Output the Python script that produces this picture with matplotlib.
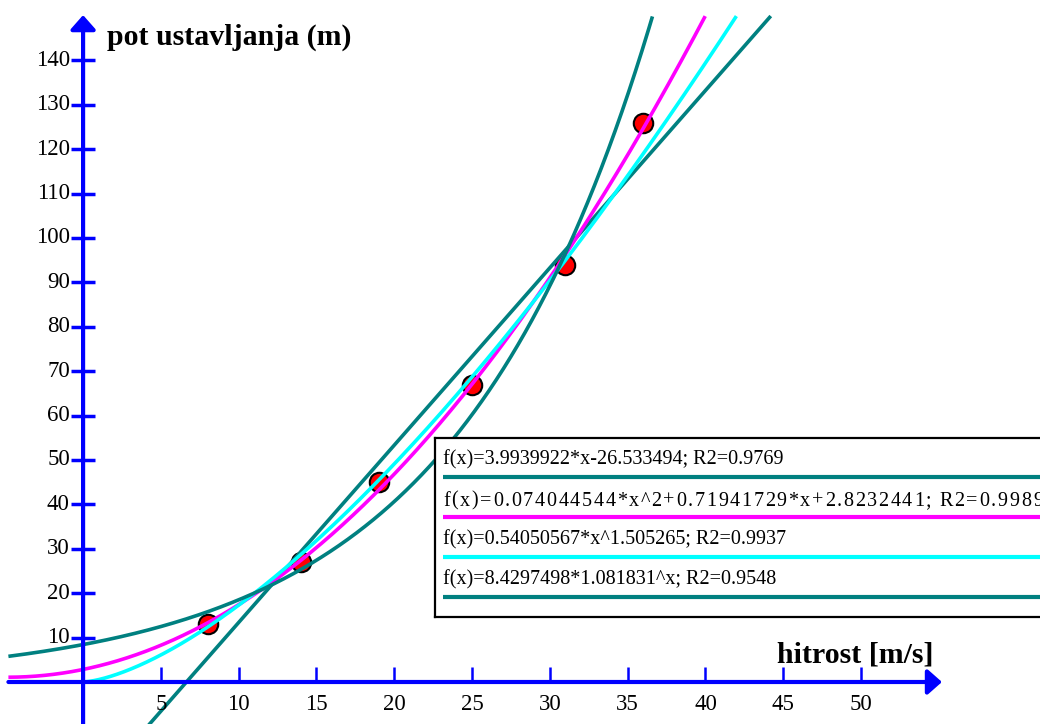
import numpy as np
import matplotlib
matplotlib.use("Agg")
import matplotlib.pyplot as plt
from matplotlib.font_manager import findfont, FontProperties
from matplotlib import ft2font

plt.rcParams['font.family'] = ['Liberation Serif', 'DejaVu Serif']

# measured speeds (m/s) and stopping distances (m)
speed = [8, 14, 19, 25, 31, 36]
distance = [13, 27, 45, 67, 94, 126]

x_ticks = [5, 10, 15, 20, 25, 30, 35, 40, 45, 50]
y_ticks = [10, 20, 30, 40, 50, 60, 70, 80, 90, 100, 110, 120, 130, 140]

fit_labels = [
    "f(x)=3.9939922*x-26.533494; R2=0.9769",
    "f(x)=0.074044544*x^2+0.71941729*x+2.8232441; R2=0.9989",
    "f(x)=0.54050567*x^1.505265; R2=0.9937",
    "f(x)=8.4297498*1.081831^x; R2=0.9548",
]
fit_colors = ["#008080", "#ff00ff", "#00ffff", "#008080"]
# the quadratic label is set with wider letter spacing (total width in px)
wide_label_width = {1: 600}

AXIS = "#0000ff"
W, H = 1040, 724
DPI = 100
LEG_FS = 14.5

fig = plt.figure(figsize=(W / DPI, H / DPI), dpi=DPI)
ax = fig.add_axes([0, 0, 1, 1])
ax.set_xlim(-5.34, 61.5)
ax.set_ylim(-9.46, 153.6)
ax.axis("off")

# fitted curves
YMAX = 150.0
xs = np.linspace(-4.8, 60, 6000)
xs_pos = np.linspace(0, 60, 6000)
curves = [
    (xs, 3.9939922 * xs - 26.533494),
    (xs, 0.074044544 * xs ** 2 + 0.71941729 * xs + 2.8232441),
    (xs_pos, 0.54050567 * xs_pos ** 1.505265),
    (xs, 8.4297498 * 1.081831 ** xs),
]

# data points sit beneath the curves
ax.plot(speed, distance, "o", ms=14, mfc="red", mec="black", mew=1.5,
        zorder=2, linestyle="none")

for (cx, cy), col in zip(curves, fit_colors):
    cy = np.where(cy > YMAX, np.nan, cy)
    ax.plot(cx, cy, color=col, lw=2.6, zorder=3, solid_capstyle="butt")

# axes with arrow heads
arrow = dict(arrowstyle="-|>,head_length=0.86,head_width=0.76",
             color=AXIS, lw=3, mutation_scale=10, shrinkA=0, shrinkB=0)
ax.annotate("", xy=(55.2, 0), xytext=(-4.8, 0), arrowprops=arrow, zorder=4)
ax.annotate("", xy=(0, 150.2), xytext=(0, -9.5), arrowprops=arrow, zorder=4)

# tick marks
ax.hlines(y_ticks, -0.77, 0.77, color=AXIS, lw=2.5, zorder=4)
ax.vlines(x_ticks, 0, 3.4, color=AXIS, lw=1.8, zorder=4)

for t in y_ticks:
    ax.text(-0.85, t, str(t), ha="right", va="center", fontsize=16.5,
            zorder=5)
for t in x_ticks:
    ax.text(t, -5.0, str(t), ha="center", va="center", fontsize=16.5,
            zorder=5)

ax.text(1.55, 143.5, "pot ustavljanja (m)", fontsize=21.5,
        fontweight="bold", ha="left", va="baseline", zorder=5)
ax.text(44.6, 4.5, "hitrost [m/s]", fontsize=21.5,
        fontweight="bold", ha="left", va="baseline", zorder=5)

# legend panel (pixel coordinates, running off the right edge)
lx0, ly0, lx1, ly1 = 435, 438, 1200, 617
lg = fig.add_axes([lx0 / W, 1 - ly1 / H, (lx1 - lx0) / W, (ly1 - ly0) / H])
lg.set_xlim(lx0, lx1)
lg.set_ylim(ly1, ly0)
lg.set_facecolor("white")
lg.set_xticks([])
lg.set_yticks([])
for sp in lg.spines.values():
    sp.set_color("black")
    sp.set_linewidth(1.6)
lg.set_zorder(10)

# glyph advances for letter-spaced text
_font = ft2font.FT2Font(findfont(FontProperties(family="Liberation Serif")))
_font.set_size(LEG_FS, DPI)
try:
    _NOHINT = ft2font.LoadFlags.NO_HINTING
except AttributeError:
    _NOHINT = ft2font.LOAD_NO_HINTING


def advance(ch):
    g = _font.load_char(ord(ch), flags=_NOHINT)
    return g.linearHoriAdvance / 65536.0


def spaced_text(x, y, s, total):
    adv = [advance(ch) for ch in s]
    gap = (total - sum(adv)) / (len(s) - 1)
    for ch, a in zip(s, adv):
        if ch != " ":
            lg.text(x, y, ch, ha="left", va="baseline", fontsize=LEG_FS)
        x += a + gap


for i, (lab, col) in enumerate(zip(fit_labels, fit_colors)):
    ty = 460 + 40 * i
    if i in wide_label_width:
        spaced_text(443, ty + 5.5, lab, wide_label_width[i])
    else:
        lg.text(443, ty, lab, fontsize=LEG_FS, ha="left", va="center")
    lg.plot([443, 1200], [ty + 17, ty + 17], color=col, lw=3,
            solid_capstyle="butt")

fig.savefig("out.png", dpi=DPI)
